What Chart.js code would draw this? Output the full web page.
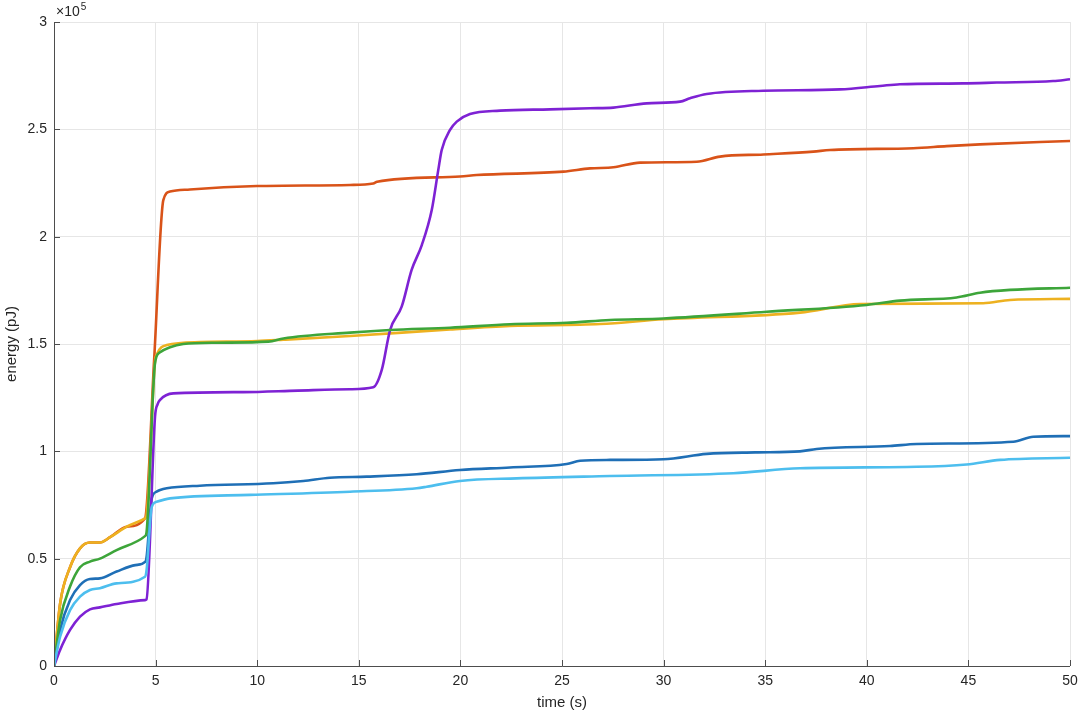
<!DOCTYPE html>
<html>
<head>
<meta charset="utf-8">
<script src="https://cdn.jsdelivr.net/npm/chart.js@4.4.1/dist/chart.umd.min.js"></script>
<style>
  html, body { margin: 0; padding: 0; background: #fff; }
  #wrap { width: 1080px; height: 714px; }
</style>
</head>
<body>
<div id="wrap"><canvas id="chart"></canvas></div>
<script>
// energy values are in units of 1e5 pJ (axis shows x10^5)
const xTicks = [0, 5, 10, 15, 20, 25, 30, 35, 40, 45, 50];
const yTicks = [0, 0.5, 1, 1.5, 2, 2.5, 3];

const blueT = [0, 0.3, 0.79, 1.28, 1.77, 2.26, 3.08, 4.0, 4.5, 4.56, 4.81, 5.05, 5.22, 5.55, 7.18, 10.79, 12.27, 13.58, 15.39, 17.85, 19.98, 22.44, 25.23, 25.89, 27.36, 29.99, 32.12, 34.5, 36.71, 37.53, 41.14, 42.45, 47.21, 48.19, 50];
const blueE = [0, 0.168, 0.307, 0.377, 0.405, 0.408, 0.44, 0.47, 0.486, 0.51, 0.78, 0.812, 0.82, 0.828, 0.84, 0.851, 0.862, 0.877, 0.882, 0.893, 0.913, 0.925, 0.941, 0.956, 0.96, 0.963, 0.988, 0.995, 1.0, 1.011, 1.025, 1.034, 1.045, 1.068, 1.071];

const orangeT = [0, 0.3, 0.79, 1.28, 1.77, 2.26, 2.76, 3.58, 4.48, 4.93, 5.38, 5.71, 6.69, 10.0, 14.57, 15.71, 15.9, 19.98, 20.8, 25.07, 26.38, 27.53, 28.84, 31.63, 32.78, 34.91, 37.37, 38.19, 42.29, 43.93, 45.57, 50];
const orangeE = [0, 0.29, 0.46, 0.548, 0.575, 0.575, 0.6, 0.649, 0.688, 1.43, 2.17, 2.21, 2.22, 2.236, 2.241, 2.248, 2.256, 2.28, 2.287, 2.303, 2.318, 2.323, 2.345, 2.349, 2.373, 2.383, 2.396, 2.404, 2.412, 2.422, 2.43, 2.446];

const yellowT = [0, 0.3, 0.79, 1.28, 1.77, 2.26, 2.76, 3.58, 4.48, 4.55, 4.97, 5.05, 5.55, 7.18, 10.0, 11.29, 14.57, 19.49, 22.44, 26.87, 29.99, 36.71, 39.67, 45.73, 47.05, 50];
const yellowE = [0, 0.29, 0.46, 0.548, 0.575, 0.575, 0.6, 0.649, 0.688, 0.7, 1.42, 1.45, 1.495, 1.509, 1.514, 1.52, 1.537, 1.568, 1.584, 1.593, 1.615, 1.646, 1.686, 1.69, 1.705, 1.71];

const purpleT = [0, 0.3, 0.79, 1.28, 1.77, 2.26, 3.08, 4.48, 4.55, 4.97, 5.1, 5.22, 5.87, 9.3, 12.0, 14.57, 15.71, 16.13, 16.54, 17.11, 17.6, 18.1, 18.59, 18.91, 19.08, 19.49, 19.82, 20.47, 21.95, 24.41, 26.38, 27.53, 29.17, 30.81, 31.3, 32.12, 34.91, 38.68, 40.65, 41.63, 44.75, 46.4, 49.17, 50];
const purpleE = [0, 0.075, 0.168, 0.23, 0.264, 0.273, 0.289, 0.307, 0.31, 1.16, 1.22, 1.24, 1.27, 1.276, 1.283, 1.289, 1.298, 1.379, 1.565, 1.674, 1.845, 1.961, 2.124, 2.31, 2.404, 2.497, 2.536, 2.571, 2.587, 2.593, 2.598, 2.601, 2.621, 2.629, 2.645, 2.665, 2.68, 2.686, 2.702, 2.71, 2.714, 2.718, 2.725, 2.733];

const greenT = [0, 0.3, 0.79, 1.28, 1.77, 2.26, 3.08, 4.48, 4.55, 4.97, 5.2, 5.71, 6.36, 8.0, 10.55, 11.29, 14.57, 16.54, 19.49, 22.44, 25.23, 27.36, 29.99, 35.07, 39.99, 41.63, 44.42, 45.57, 47.05, 50];
const greenE = [0, 0.214, 0.37, 0.46, 0.486, 0.5, 0.54, 0.605, 0.62, 1.41, 1.46, 1.485, 1.5, 1.506, 1.511, 1.526, 1.553, 1.565, 1.576, 1.592, 1.599, 1.612, 1.619, 1.65, 1.682, 1.702, 1.717, 1.739, 1.752, 1.762];

const lightT = [0, 0.3, 0.79, 1.28, 1.77, 2.26, 3.08, 4.48, 4.56, 4.81, 5.05, 5.71, 9.65, 14.57, 17.85, 18.34, 19.98, 22.77, 27.36, 33.43, 36.71, 42.45, 44.91, 46.56, 50];
const lightE = [0, 0.137, 0.26, 0.323, 0.354, 0.362, 0.385, 0.416, 0.45, 0.74, 0.765, 0.781, 0.797, 0.812, 0.828, 0.835, 0.862, 0.874, 0.885, 0.898, 0.921, 0.928, 0.939, 0.96, 0.97];

const series = [
  { t: blueT, e: blueE, color: '#1f6fb6' },
  { t: orangeT, e: orangeE, color: '#d95319' },
  { t: yellowT, e: yellowE, color: '#edb120' },
  { t: purpleT, e: purpleE, color: '#7e22d4' },
  { t: greenT, e: greenE, color: '#3da53a' },
  { t: lightT, e: lightE, color: '#4dbeee' },
];

const font = { family: '"Liberation Sans", Arial, sans-serif', size: 14 };
const textColor = '#262626';

// inward tick marks, axis lines and the x10^5 multiplier
const matlabAxes = {
  id: 'matlabAxes',
  afterDraw(chart) {
    const { ctx, chartArea: a, scales: { x, y } } = chart;
    ctx.save();
    ctx.strokeStyle = '#4d4d4d';
    ctx.lineWidth = 1;
    ctx.beginPath();
    ctx.moveTo(a.left + 0.5, a.top);
    ctx.lineTo(a.left + 0.5, a.bottom + 0.5);
    ctx.lineTo(a.right, a.bottom + 0.5);
    xTicks.forEach(v => {
      const px = Math.round(x.getPixelForValue(v)) + 0.5;
      ctx.moveTo(px, a.bottom);
      ctx.lineTo(px, a.bottom - 6);
    });
    yTicks.forEach(v => {
      const py = Math.round(y.getPixelForValue(v)) + 0.5;
      ctx.moveTo(a.left, py);
      ctx.lineTo(a.left + 6, py);
    });
    ctx.stroke();

    ctx.fillStyle = textColor;
    ctx.textBaseline = 'alphabetic';
    ctx.textAlign = 'left';
    ctx.font = '14px "Liberation Sans", Arial, sans-serif';
    ctx.fillText('\u00d710', a.left + 2, a.top - 6);
    const w = ctx.measureText('\u00d710').width;
    ctx.font = '10px "Liberation Sans", Arial, sans-serif';
    ctx.fillText('5', a.left + 2 + w + 1, a.top - 12);
    ctx.restore();
  }
};

new Chart(document.getElementById('chart'), {
  type: 'line',
  data: {
    datasets: series.map((s, i) => ({
      data: s.t.map((t, k) => ({ x: t, y: s.e[k] })),
      borderColor: s.color,
      backgroundColor: s.color,
      borderWidth: 2.6,
      pointRadius: 0,
      cubicInterpolationMode: 'monotone',
      order: series.length - i,
    })),
  },
  options: {
    responsive: true,
    maintainAspectRatio: false,
    animation: false,
    layout: { padding: { top: 22, right: 10, left: 0, bottom: 0 } },
    plugins: {
      legend: { display: false },
      tooltip: { enabled: false },
    },
    scales: {
      x: {
        type: 'linear',
        min: 0,
        max: 50,
        afterFit: (scale) => {
          scale.height = 48;
          scale.paddingLeft = 0;
          scale.paddingRight = 0;
        },
        afterBuildTicks: (scale) => { scale.ticks = xTicks.map(v => ({ value: v })); },
        grid: { color: '#e6e6e6', drawTicks: false },
        border: { display: false },
        ticks: { font, color: textColor, padding: 7, maxRotation: 0 },
        title: { display: true, text: 'time (s)', font: { ...font, size: 15 }, color: textColor, padding: { top: 0, bottom: 2 } },
      },
      y: {
        min: 0,
        max: 3,
        afterFit: (scale) => {
          scale.width = 54;
          scale.paddingTop = 0;
          scale.paddingBottom = 0;
        },
        afterBuildTicks: (scale) => { scale.ticks = yTicks.map(v => ({ value: v })); },
        grid: { color: '#e6e6e6', drawTicks: false },
        border: { display: false },
        ticks: { font, color: textColor, padding: 7, callback: (v) => String(v) },
        title: { display: true, text: 'energy (pJ)', font: { ...font, size: 15 }, color: textColor, padding: { top: 3, bottom: 0 } },
      },
    },
  },
  plugins: [matlabAxes],
});
</script>
</body>
</html>
